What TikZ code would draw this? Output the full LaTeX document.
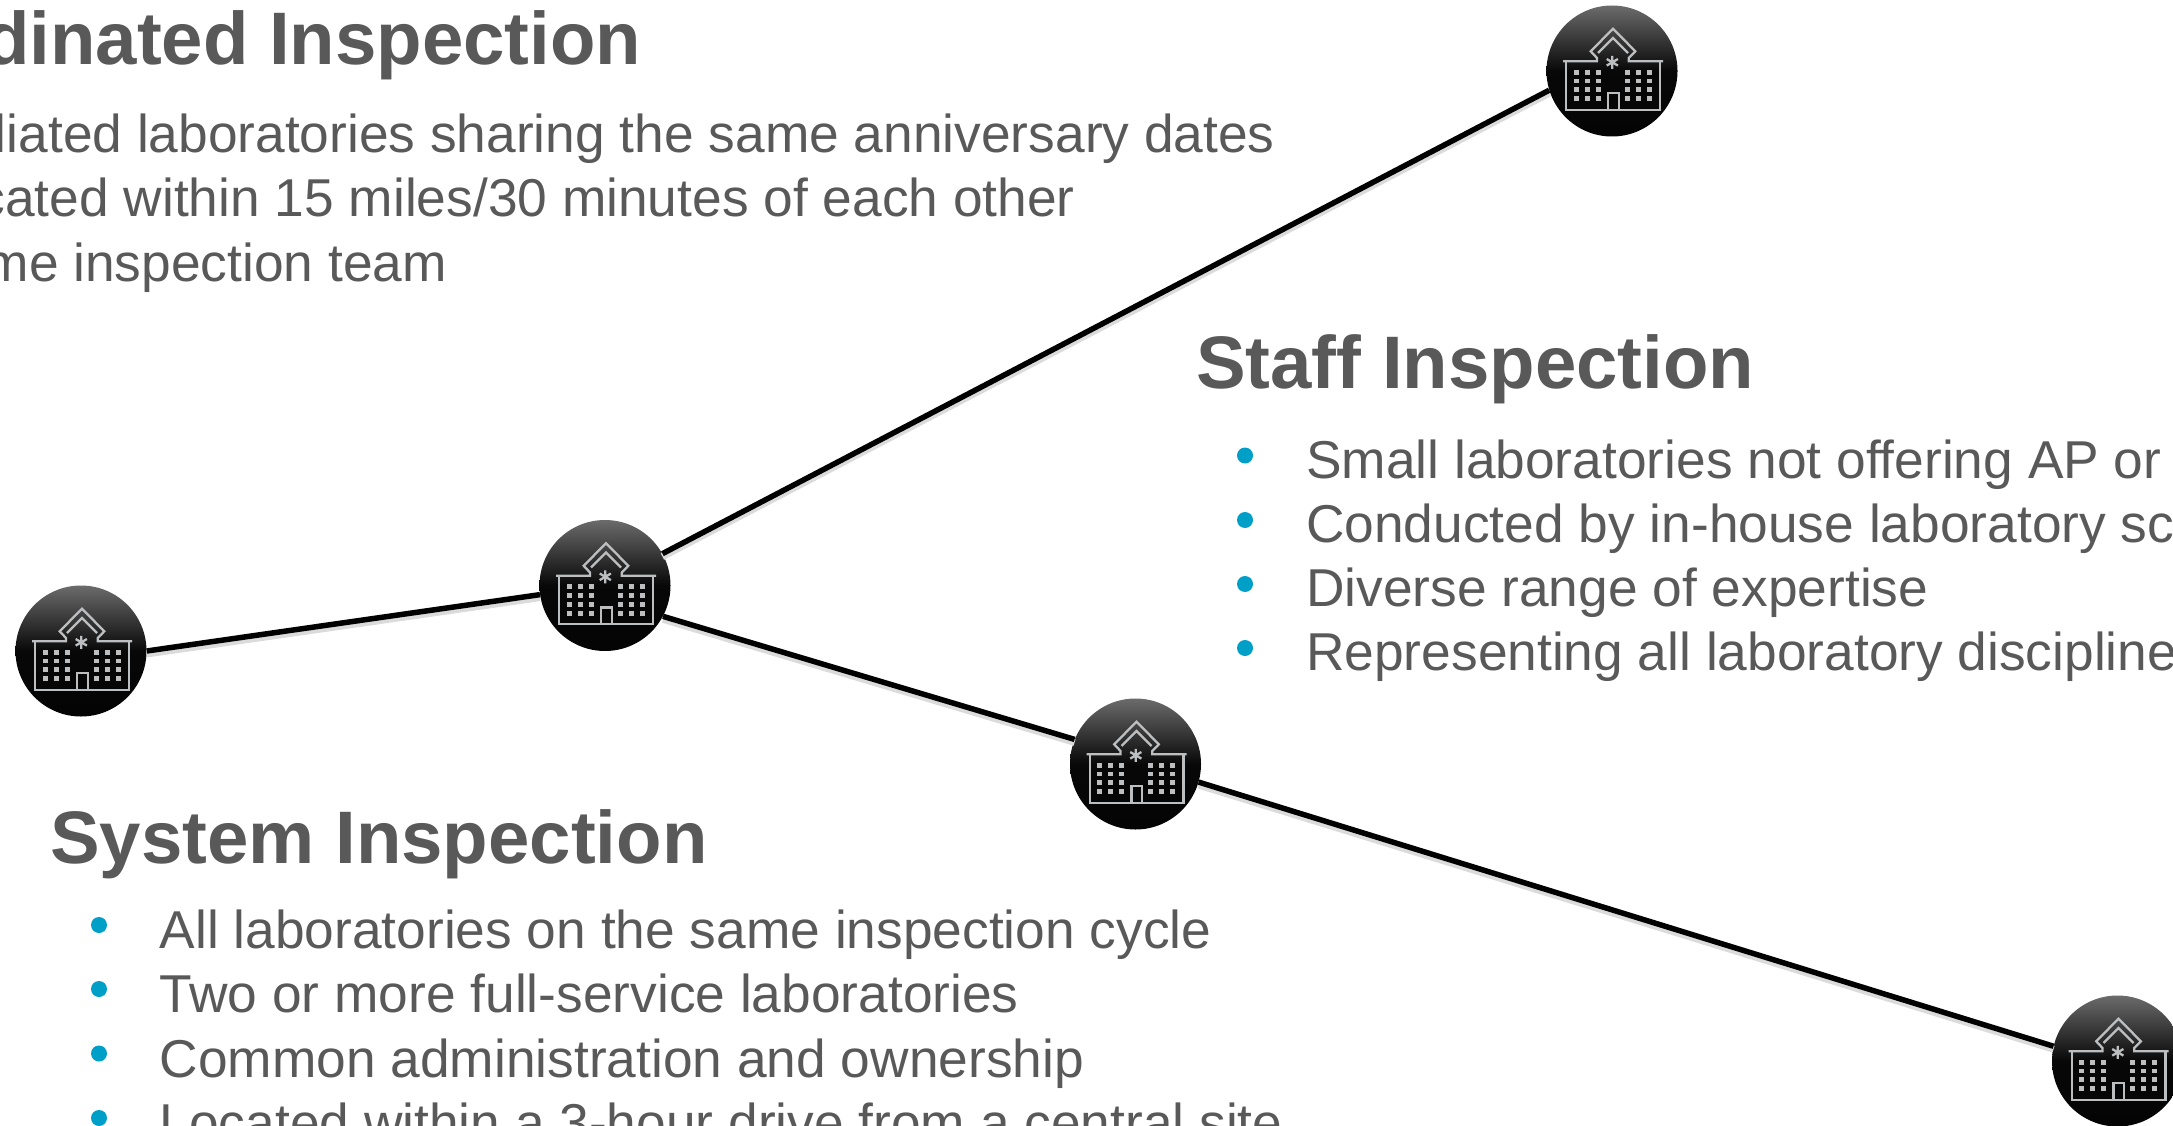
\documentclass[tikz,border=0pt]{standalone}
\usepackage{fontspec}
\setmainfont{Liberation Sans}
\definecolor{inktext}{HTML}{595959}
\definecolor{dotblue}{HTML}{009FC7}
\definecolor{iconline}{HTML}{BCBEC0}
\pgfdeclareverticalshading{labshade}{100bp}{color(0bp)=(black); color(50bp)=(black!97); color(75bp)=(black!58); color(100bp)=(black!58)}
\tikzset{
  labnode/.style={circle,minimum size=131pt,inner sep=0pt,shading=labshade},
  link/.style={line width=5.5pt,black,preaction={draw=black!14,line width=7pt,transform canvas={yshift=-3pt}}},
  headtext/.style={anchor=base west,inner sep=0pt,text=inktext,font=\fontsize{74.4}{80}\selectfont\bfseries},
  bodytext/.style={anchor=base west,inner sep=0pt,text=inktext,font=\fontsize{53.3}{64}\selectfont},
  dot/.style={circle,fill=dotblue,inner sep=0pt,minimum size=16pt},
  labicon/.pic={
    \draw[iconline,line width=2.3pt] (-49,-9.7)--(-15,-9.7)--(-15,-13)--(-21.3,-19.7)--(1,-42.3)--(23.3,-19.7)--(16.7,-13)--(16.7,-9.7)--(51,-9.7);
    \draw[iconline,line width=2.3pt] (-14,-18)--(1,-33)--(16,-18);
    \draw[iconline,line width=2.3pt] (-45.7,-9.7)--(-45.7,38.7)--(48,38.7)--(48,-9.7);
    \draw[iconline,line width=2.3pt] (-4,38.7)--(-4,22)--(6.7,22)--(6.7,38.7);
    \draw[iconline,line width=2.3pt] (0.3,-15.2)--(0.3,-2.2) (-5.3,-12)--(5.9,-5.4) (-5.3,-5.4)--(5.9,-12);
    \foreach \wx in {-35.7,-24.7,-13.7,15.3,26.3,37.3}
      \foreach \wy in {1.3,10,18.7,27.7}
        \fill[iconline] (\wx-2.4,\wy-2.4) rectangle (\wx+2.4,\wy+2.4);
  }
}
\begin{document}
\begin{tikzpicture}[x=1pt,y=-1pt]
  \useasboundingbox (0,0) rectangle (2173,1126);
  \clip (0,0) rectangle (2173,1126);
  % labs
  \node[labnode] (lab1) at (81,651) {};
  \node[labnode] (lab2) at (605,585.5) {};
  \node[labnode] (lab3) at (1135.5,764) {};
  \node[labnode] (lab4) at (1612,71) {};
  \node[labnode] (lab5) at (2117.5,1061) {};
  \draw[link] (lab1.east)--(lab2.188);
  \draw[link] (lab2.29)--(lab4.197);
  \draw[link] (lab2.-28)--(lab3.158);
  \draw[link] (lab3.-16)--(lab5.167);
  \pic at (lab1) {labicon};
  \pic at (lab2) {labicon};
  \pic at (lab3) {labicon};
  \pic at (lab4) {labicon};
  \pic at (lab5) {labicon};
  % top left text
  \node[headtext,anchor=base east] (coordhead) at (641.5,64.5) {Coordinated Inspection};
  \node[bodytext,anchor=base east] (coord1) at (1275,153) {Affiliated laboratories sharing the same anniversary dates};
  \node[bodytext,anchor=base east] (coord2) at (1075,217) {Located within 15 miles/30 minutes of each other};
  \node[bodytext,anchor=base east] (coord3) at (447,281) {Same inspection team};
  % staff
  \node[headtext] (staffhead) at (1196,388) {Staff Inspection};
  \node[dot] (sdot1) at (1245,455.5) {};
  \node[dot] (sdot2) at (1245,520) {};
  \node[dot] (sdot3) at (1245,584) {};
  \node[dot] (sdot4) at (1245,648) {};
  \node[bodytext] (staff1) at (1306,478.5) {Small laboratories not offering AP or};
  \node[bodytext] (staff2) at (1306,542.5) {Conducted by in-house laboratory scientists};
  \node[bodytext] (staff3) at (1306,606.5) {Diverse range of expertise};
  \node[bodytext] (staff4) at (1306,670.5) {Representing all laboratory disciplines};
  % system
  \node[headtext] (syshead) at (50,863) {System Inspection};
  \node[dot] (ydot1) at (99,925) {};
  \node[dot] (ydot2) at (99,989) {};
  \node[dot] (ydot3) at (99,1053.5) {};
  \node[dot] (ydot4) at (99,1118) {};
  \node[bodytext] (sys1) at (159.5,948.5) {All laboratories on the same inspection cycle};
  \node[bodytext] (sys2) at (159.5,1012.5) {Two or more full-service laboratories};
  \node[bodytext] (sys3) at (159.5,1077) {Common administration and ownership};
  \node[bodytext] (sys4) at (159.5,1141) {Located within a 3-hour drive from a central site};
\end{tikzpicture}
\end{document}
